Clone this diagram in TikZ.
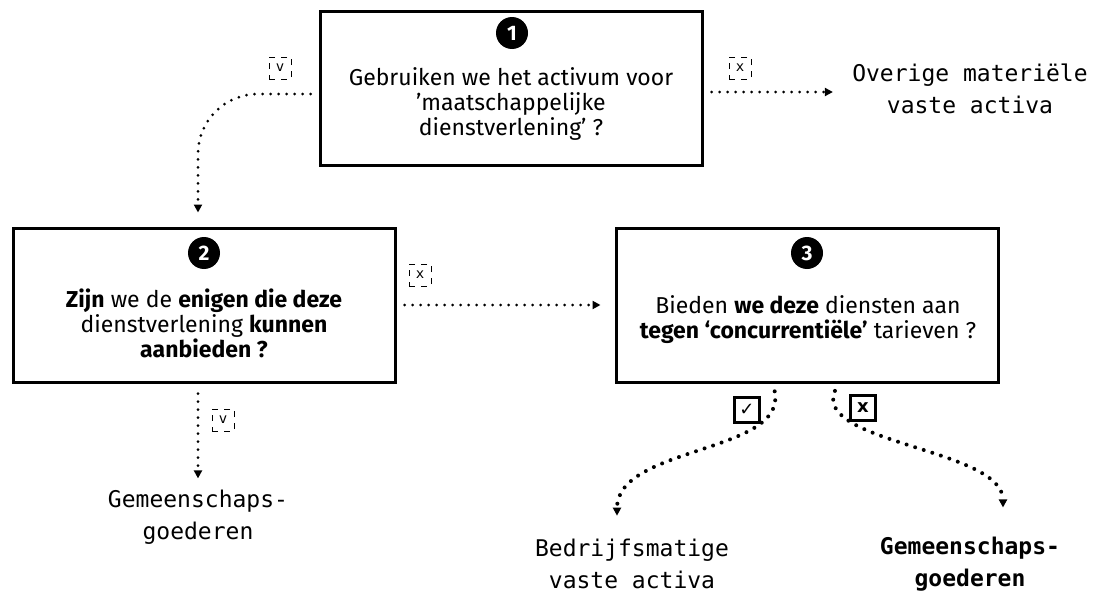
\documentclass[tikz,border=0pt]{standalone}
\usepackage{fontspec}
\usepackage{tikz}
\usetikzlibrary{arrows.meta}
\setmainfont{Fira Sans}
\newfontfamily\monofam{DejaVu Sans Mono}
\newfontfamily\symfam{DejaVu Sans}

\begin{document}
\begin{tikzpicture}[x=0.5pt, y=-0.5pt,
    vraag/.style={draw, line width=1.5pt, minimum width=191pt, minimum height=77pt},
    tekst/.style={align=center, font=\fontsize{11.5}{12.5}\selectfont},
    nummer/.style={circle, fill=black, text=white, inner sep=0pt, minimum size=16pt, font=\fontsize{10.5}{10.5}\selectfont\bfseries},
    uitkomst/.style={align=center, inner sep=1.5pt, font=\monofam\fontsize{11.5}{16}\selectfont},
    vinkje/.style={draw, dashed, line width=0.4pt, inner sep=1pt, minimum size=11pt, font=\monofam\fontsize{7}{7}\selectfont},
    hokje/.style={draw, line width=1.2pt, inner sep=1pt, minimum size=12.5pt, font=\symfam\fontsize{9}{9}\selectfont},
    pijl/.style={line width=1.5pt, line cap=round, dash pattern=on 0pt off 4pt, -{Triangle[length=4pt, width=4pt]}},
    zwaar/.style={line width=2pt, dash pattern=on 0pt off 4.5pt}]
      \useasboundingbox (0,0) rectangle (1094,594);
      \node[vraag] (b1) at (511,88) {};
      \node[nummer] (n1) at (512,33) {1};
      \node[tekst] (q1) at (511,104) {Gebruiken we het activum voor\\'maatschappelijke\\dienstverlening' ?};
      \node[vraag] (b2) at (204,305) {};
      \node[nummer] (n2) at (204,253) {2};
      \node[tekst] (q2) at (204,323) {\textbf{Zijn} we de \textbf{enigen die deze}\\dienstverlening \textbf{kunnen}\\\textbf{aanbieden ?}};
      \node[vraag] (b3) at (807,305) {};
      \node[nummer] (n3) at (807,253) {3};
      \node[tekst] (q3) at (808,320) {Bieden \textbf{we deze} diensten aan\\\textbf{tegen `concurrentiële'} tarieven ?};
      \node[uitkomst] (o1) at (970,89) {Overige materiële\\vaste activa};
      \node[uitkomst] (g1) at (198,517) {Gemeenschaps-\\goederen};
      \node[uitkomst] (g2) at (632,564) {Bedrijfsmatige\\vaste activa};
      \node[uitkomst, font=\monofam\bfseries\fontsize{11.5}{16}\selectfont] (g3) at (970,564) {Gemeenschaps-\\goederen};
      \node[vinkje] (c1) at (280,68) {v};
      \node[vinkje] (c2) at (740,68) {x};
      \node[vinkje] (c3) at (420,275) {x};
      \node[vinkje] (c4) at (223,420) {v};
      \node[hokje] (c5) at (747,410) {✓};
      \node[hokje, font=\symfam\bfseries\fontsize{9}{9}\selectfont] (c6) at (863,408) {x};
      \coordinate (e1) at ([yshift=-3pt]b1.west);
      \coordinate (e2) at ([yshift=-2pt]b1.east);
      \draw[pijl, rounded corners=30pt, shorten <=4pt, shorten >=7pt] (e1) -| ([xshift=-3pt]b2.north);
      \draw[pijl, shorten <=4pt, shorten >=8pt] (e2) -- (e2 -| o1.west);
      \draw[pijl, shorten <=4pt, shorten >=7pt] (b2.east) -- (b3.west);
      \draw[pijl, shorten <=5pt, shorten >=4pt] (b2.south -| g1.north) -- (g1.north);
      \draw[pijl, zwaar, shorten <=4pt, shorten >=10pt] ([xshift=-17pt]b3.south) .. controls +(15,70) and +(0,-90) .. ([xshift=-7.5pt]g2.north);
      \draw[pijl, zwaar, shorten <=4pt, shorten >=13pt] ([xshift=15.5pt]b3.south) .. controls +(-25,60) and +(0,-85) .. ([xshift=16.5pt]g3.north);
    \end{tikzpicture}
\end{document}
